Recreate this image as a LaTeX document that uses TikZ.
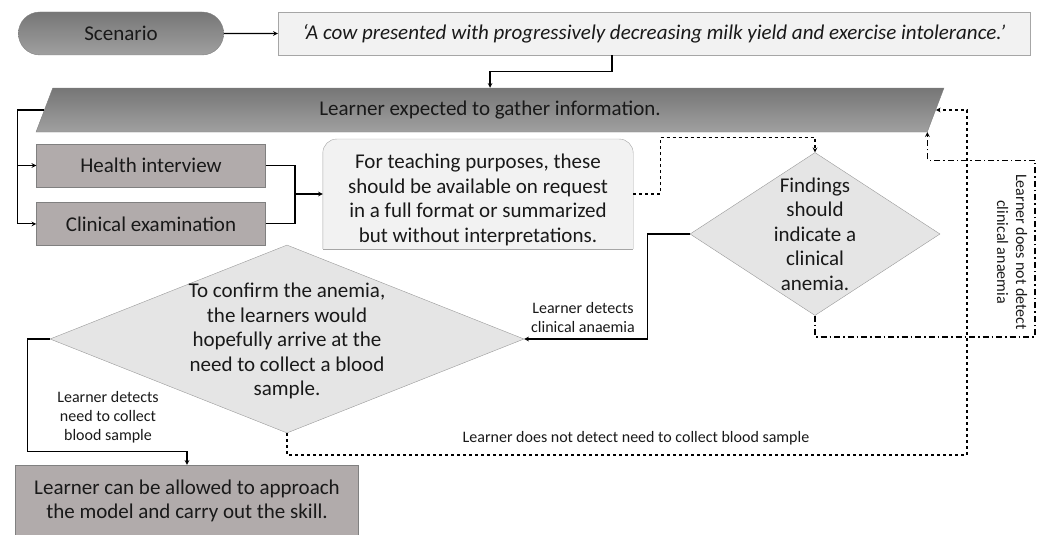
\documentclass[tikz,border=0pt]{standalone}
\usepackage{fontspec}
\setmainfont{Carlito}
\usetikzlibrary{shapes.geometric, shapes.misc, arrows, positioning, backgrounds}

\definecolor{pilltop}{RGB}{118,118,118}
\definecolor{pillbottom}{RGB}{160,160,160}
\definecolor{taupe}{RGB}{177,171,171}
\definecolor{paper}{RGB}{242,242,242}
\definecolor{pale}{RGB}{229,229,229}
\definecolor{edge}{RGB}{128,128,128}

\newcommand\mainsize{\fontsize{21}{24.5}\selectfont}
\newcommand\tagsize{\fontsize{16}{19}\selectfont}

\tikzstyle{arrow} = [line width=1.1pt,->,>=stealth]
\tikzstyle{greybox} = [rectangle, minimum width=229pt, minimum height=43pt, text centered, draw=edge, fill=taupe, align=center]
\tikzstyle{decision} = [diamond, draw=edge!80, fill=pale, inner sep=0pt]

\begin{document}
\begin{tikzpicture}[x=1pt, y=-1pt,
        every node/.style={font=\mainsize, text=black!90},
        pill/.style={rounded rectangle, minimum width=212pt, minimum height=43pt, draw=edge, top color=pilltop, bottom color=pillbottom},
        lightbox/.style={rectangle, minimum width=752pt, minimum height=43pt, draw=edge!70, fill=paper},
        gatherbox/.style={trapezium, trapezium left angle=75, trapezium right angle=105, trapezium stretches=true,
            minimum width=910pt, minimum height=44pt, draw=edge, top color=pilltop, bottom color=pillbottom},
        tag/.style={font=\tagsize, align=center}]

    \useasboundingbox (0,0) rectangle (1046,535);

    \node [pill] (scenario) at (121,33.5) {Scenario};
    \node [lightbox] (vignette) at (654,33.5) {\itshape ‘A cow presented with progressively decreasing milk yield and exercise intolerance.’};
    \node [gatherbox] (gather) at (490,110) {Learner expected to gather information.};

    \node [greybox] (interview) at (151,165.5) {Health interview};
    \node [greybox, below=15pt of interview] (exam) {Clinical examination};

    \node [minimum width=310pt, minimum height=100pt, align=center] (info) at (478,194)
        {\rule{0pt}{26pt}For teaching purposes, these\\should be available on request\\in a full format or summarized\\but without interpretations.};
    \begin{scope}[on background layer]
        \filldraw [draw=edge!70, fill=paper] (info.south west) [rounded corners=14pt] -- (info.north west) -- (info.north east) -- (info.south east);
        \draw [edge!70] (info.south west) -- (info.south east);
    \end{scope}

    \node [decision, minimum width=250pt, minimum height=163pt] (findings) at (815,234) {};
    \node [align=center] (findingstext) at (findings.center) {Findings\\should\\indicate a\\clinical\\anemia.};

    \node [decision, minimum width=474pt, minimum height=188pt] (confirm) at (287,339) {};
    \node [align=center] (confirmtext) at (287,341) {To confirm the anemia,\\the learners would\\hopefully arrive at the\\need to collect a blood\\sample.};

    \node [greybox, minimum width=343pt, minimum height=72pt] (skill) at (187,501)
        {Learner can be allowed to approach\\the model and carry out the skill.};

    \coordinate (join) at (295,194);
    \coordinate (loopback) at (967,455);
    \coordinate (recheck) at (1035,337);

    \draw[arrow] (scenario) -- (vignette);
    \draw[arrow] ([xshift=-42pt]vignette.south) -- ++(0,16) -| (gather.north);
    \draw[arrow] (gather.left side) -- ++(-27,0) |- (interview.west);
    \draw[arrow] (gather.left side) -- ++(-27,0) |- (exam.west);
    \draw[line width=1.1pt] (interview.east) -| (join);
    \draw[line width=1.1pt] (exam.east) -| (join);
    \draw[arrow] (join) -- (info.west);
    \draw[arrow, dashed] (info.east) -- ++(27,0) |- ([yshift=15pt]findings.north) -- (findings.north);

    \draw[arrow] (findings.west) -- ++(-42,0) |- (confirm.east);
    \node [tag] (detected) at (583,317) {Learner detects\\clinical anaemia};

    \draw[arrow] (confirm.west) -- ++(-22,0) |- ([yshift=13pt]skill.north) -- (skill.north);
    \node [tag] (sampled) at (108,417) {Learner detects\\need to collect\\blood sample};

    \draw[arrow, dashed] (confirm.south) |- (loopback) |- (gather.right side);
    \node [tag] (missed) at (636,438) {Learner does not detect need to collect blood sample};

    \draw[arrow, dash pattern=on 6pt off 3pt on 1.5pt off 3pt] (findings.south) |- (recheck) |- ([yshift=-28pt]gather.bottom right corner) -- (gather.bottom right corner);
    \node [tag, rotate=-90] (overlooked) at (1012,252) {Learner does not detect\\clinical anaemia};
\end{tikzpicture}
\end{document}
